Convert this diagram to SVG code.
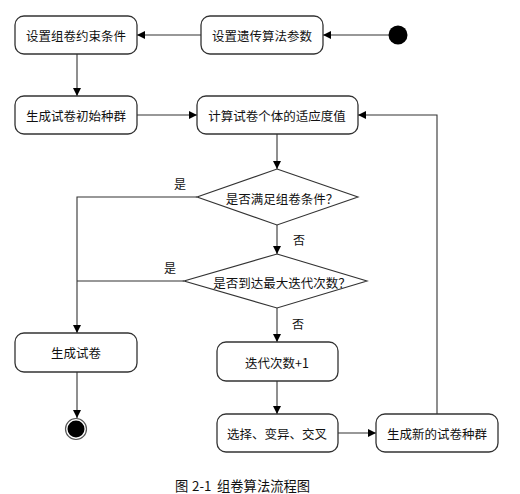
<svg xmlns="http://www.w3.org/2000/svg" width="520" height="494" viewBox="0 0 520 494">
<defs>
<marker id="arr" viewBox="0 0 10 10" refX="10" refY="5" markerWidth="8" markerHeight="8" markerUnits="userSpaceOnUse" orient="auto">
<path d="M0,0 L10,5 L0,10 z" fill="#000"/>
</marker>
<style>
.box{fill:#fff;stroke:#333;stroke-width:1.3}
.dia{fill:#fff;stroke:#333;stroke-width:1.1}
.t{font-family:"Noto Sans CJK SC","Liberation Sans",sans-serif;font-size:12.5px;fill:#111;text-anchor:middle;dominant-baseline:central}
.lbl{font-family:"Noto Sans CJK SC","Liberation Sans",sans-serif;font-size:12px;fill:#111;text-anchor:middle;dominant-baseline:central}
.c{fill:none;stroke:#333;stroke-width:1.1}
.ca{fill:none;stroke:#333;stroke-width:1.1;marker-end:url(#arr)}
.cap{font-family:"Noto Sans CJK SC","Liberation Serif",serif;font-size:13.3px;fill:#111;dominant-baseline:central}
</style>
</defs>
<rect width="520" height="494" fill="#fff"/>
<g id="connectors">
<line class="ca" x1="389" y1="35" x2="323" y2="35"/>
<line class="ca" x1="201" y1="35" x2="137" y2="35"/>
<line class="ca" x1="77" y1="54" x2="77" y2="96"/>
<line class="ca" x1="137" y1="115" x2="197" y2="115"/>
<line class="ca" x1="277" y1="134" x2="277" y2="169"/>
<polyline class="ca" points="197,197 77,197 77,333"/>
<line class="ca" x1="277" y1="225" x2="277" y2="254"/>
<line class="c" x1="184" y1="281" x2="77" y2="281"/>
<line class="ca" x1="277" y1="308" x2="277" y2="342"/>
<line class="ca" x1="77" y1="372" x2="77" y2="418"/>
<line class="ca" x1="277" y1="381" x2="277" y2="414"/>
<line class="ca" x1="338" y1="433" x2="376" y2="433"/>
<polyline class="ca" points="437,414 437,115 358,115"/>
<text class="lbl" x="180" y="183">是</text>
<text class="lbl" x="299" y="239">否</text>
<text class="lbl" x="170" y="267">是</text>
<text class="lbl" x="298" y="323">否</text>
</g>
<g id="start"><circle cx="398" cy="35" r="9.5" fill="#000"/></g>
<g id="n1"><rect class="box" x="15" y="16" width="122" height="38" rx="9"/><text class="t" x="76" y="35">设置组卷约束条件</text></g>
<g id="n2"><rect class="box" x="201" y="16" width="122" height="38" rx="9"/><text class="t" x="262" y="35">设置遗传算法参数</text></g>
<g id="n3"><rect class="box" x="15" y="96" width="122" height="38" rx="9"/><text class="t" x="76" y="115">生成试卷初始种群</text></g>
<g id="n4"><rect class="box" x="197" y="96" width="161" height="38" rx="9"/><text class="t" x="277" y="115">计算试卷个体的适应度值</text></g>
<g id="d1"><polygon class="dia" points="277,169 358,197 277,225 197,197"/><text class="t" x="282" y="198">是否满足组卷条件？</text></g>
<g id="d2"><polygon class="dia" points="277,254 367,281 277,308 184,281"/><text class="t" x="282" y="282">是否到达最大迭代次数？</text></g>
<g id="n5"><rect class="box" x="15" y="333" width="122" height="39" rx="9"/><text class="t" x="76" y="352">生成试卷</text></g>
<g id="n6"><rect class="box" x="217" y="342" width="121" height="39" rx="9"/><text class="t" x="277" y="362">迭代次数+1</text></g>
<g id="n7"><rect class="box" x="217" y="414" width="121" height="38" rx="9"/><text class="t" x="277" y="433">选择、变异、交叉</text></g>
<g id="n8"><rect class="box" x="376" y="414" width="122" height="38" rx="9"/><text class="t" x="437" y="433">生成新的试卷种群</text></g>
<g id="end"><circle cx="76" cy="429" r="10.5" fill="#fff" stroke="#555" stroke-width="1.2"/><circle cx="76" cy="429" r="8.5" fill="#000"/></g>
<text class="cap" y="485"><tspan x="175">图</tspan><tspan x="192">2-1</tspan><tspan x="217">组卷算法流程图</tspan></text>
</svg>
